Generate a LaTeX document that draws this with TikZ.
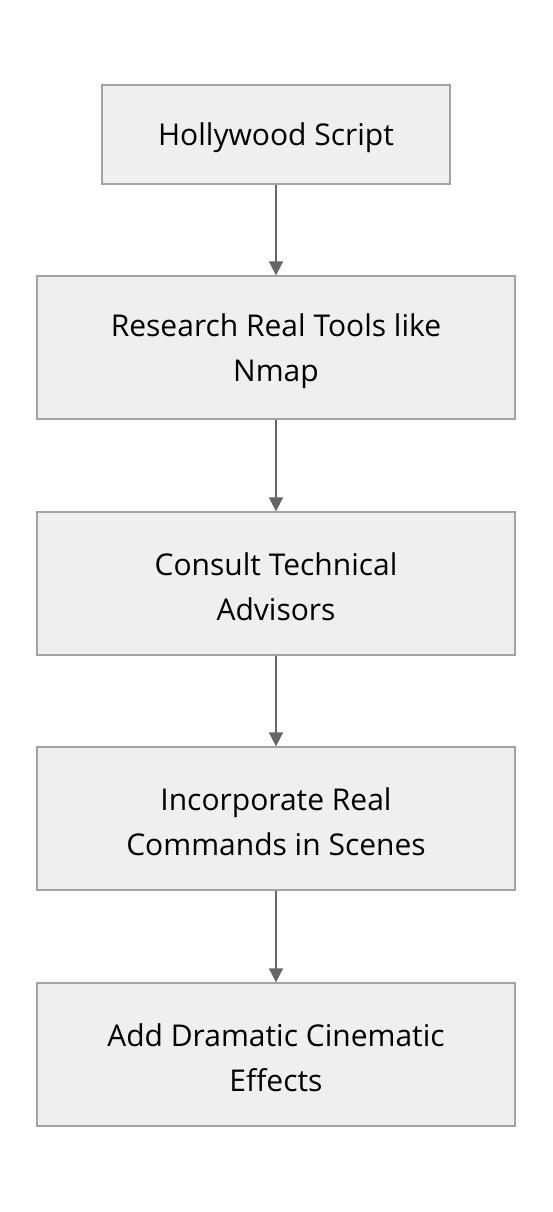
\documentclass[tikz,border=0pt]{standalone}
\usepackage{fontspec}
\setmainfont{Open Sans}
\usetikzlibrary{arrows.meta}
\definecolor{boxfill}{HTML}{EFEFEF}
\definecolor{boxline}{HTML}{A3A3A3}
\definecolor{arrowc}{HTML}{666666}
\tikzset{
  stepbox/.style={draw=boxline, fill=boxfill, line width=1.3pt, minimum height=143pt, minimum width=478pt, inner sep=0pt},
  steptext/.style={align=center, font=\fontsize{30}{45}\selectfont, inner sep=0pt, yshift=-3.5pt},
  flow/.style={draw=arrowc, line width=1.8pt, -{Triangle[length=14pt,width=14pt]}}
}
\begin{document}
\begin{tikzpicture}[x=1pt,y=-1pt]
\useasboundingbox (0,0) rectangle (552,1212);
\node[stepbox, minimum width=348pt, minimum height=99pt, label={[steptext]center:Hollywood Script}] (a) at (276,134.5) {};
\node[stepbox, label={[steptext]center:Research Real Tools like\\Nmap}] (b) at (276,347.5) {};
\node[stepbox, label={[steptext]center:Consult Technical\\Advisors}] (c) at (276,583.5) {};
\node[stepbox, label={[steptext]center:Incorporate Real\\Commands in Scenes}] (d) at (276,818.5) {};
\node[stepbox, label={[steptext]center:Add Dramatic Cinematic\\Effects}] (e) at (276,1054.5) {};
\draw[flow] (a) -- (b);
\draw[flow] (b) -- (c);
\draw[flow] (c) -- (d);
\draw[flow] (d) -- (e);
\end{tikzpicture}
\end{document}
